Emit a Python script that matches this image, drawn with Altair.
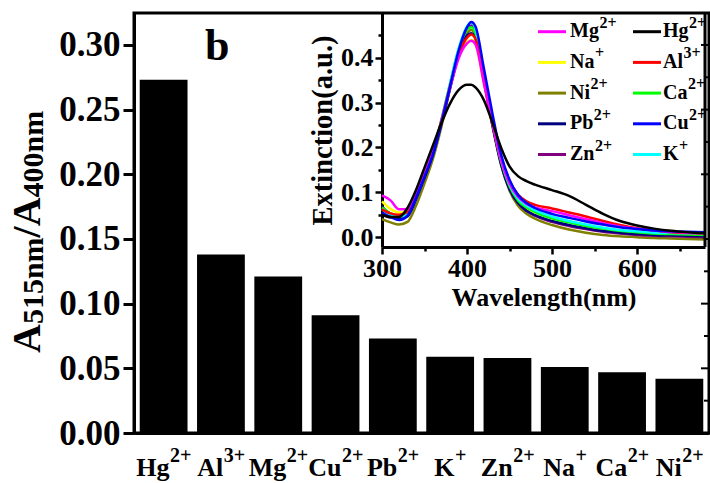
import altair as alt
import pandas as pd

# ---------------- data ----------------
ion_base = ["Hg", "Al", "Mg", "Cu", "Pb", "K", "Zn", "Na", "Ca", "Ni"]
ion_sup = ["2+", "3+", "2+", "2+", "2+", "+", "2+", "+", "2+", "2+"]
ratio = [0.273, 0.138, 0.121, 0.091, 0.073, 0.059, 0.058, 0.051, 0.047, 0.042]

wavelength = [300, 310, 320, 330, 340, 350, 360, 370, 380, 390, 400, 405, 410, 420, 430,
              440, 450, 460, 470, 480, 500, 520, 540, 560, 580, 600, 620, 640, 660, 680]
ext_Na = [.080, .063, .055, .058, .094, .140, .190, .258, .333, .400, .435, .440, .430, .340, .247,
          .166, .112, .081, .065, .056, .044, .035, .027, .020, .015, .011, .008, .006, .005, .004]
ext_Ni = [.040, .033, .028, .034, .070, .120, .175, .247, .330, .408, .455, .462, .450, .352, .250,
          .162, .104, .070, .052, .041, .027, .017, .010, .005, .002, .000, -.002, -.003, -.004, -.005]
ext_Zn = [.052, .044, .043, .050, .088, .136, .188, .259, .339, .416, .465, .472, .460, .360, .257,
          .169, .110, .077, .059, .048, .034, .025, .018, .012, .008, .005, .003, .002, .001, .000]
ext_Pb = [.068, .050, .040, .046, .084, .132, .184, .254, .332, .405, .450, .455, .443, .347, .248,
          .163, .107, .076, .059, .049, .036, .027, .020, .014, .010, .007, .005, .004, .003, .002]
ext_Ca = [.066, .053, .048, .054, .092, .140, .192, .263, .342, .417, .462, .468, .455, .357, .256,
          .170, .114, .082, .066, .056, .042, .033, .025, .019, .014, .011, .008, .007, .006, .005]
ext_K = [.062, .050, .045, .052, .090, .138, .190, .262, .342, .420, .470, .478, .465, .365, .262,
         .175, .118, .086, .070, .060, .046, .036, .028, .021, .016, .013, .010, .009, .008, .007]
ext_Al = [.062, .053, .050, .056, .093, .140, .192, .261, .337, .405, .445, .452, .442, .350, .258,
          .178, .125, .095, .080, .072, .064, .055, .046, .036, .027, .020, .015, .011, .009, .008]
ext_Mg = [.093, .082, .062, .063, .097, .142, .192, .259, .332, .398, .432, .438, .430, .342, .252,
          .173, .120, .090, .074, .066, .058, .049, .040, .031, .024, .019, .015, .012, .010, .009]
ext_Cu = [.055, .045, .038, .048, .088, .135, .185, .255, .335, .415, .468, .480, .470, .375, .275,
          .185, .128, .094, .076, .065, .052, .043, .035, .028, .022, .018, .015, .013, .012, .011]
ext_Hg = [.050, .045, .045, .065, .105, .155, .205, .255, .298, .328, .340, .340, .334, .305, .255,
          .200, .158, .136, .125, .117, .105, .092, .072, .052, .036, .026, .019, .014, .011, .009]

spectra = {"Na": ext_Na, "Ni": ext_Ni, "Zn": ext_Zn, "Pb": ext_Pb, "Ca": ext_Ca,
           "K": ext_K, "Al": ext_Al, "Mg": ext_Mg, "Cu": ext_Cu, "Hg": ext_Hg}
colors = {"Mg": "#ff00ff", "Na": "#ffff00", "Ni": "#808000", "Pb": "#000080", "Zn": "#800080",
          "Hg": "#000000", "Al": "#ff0000", "Ca": "#00ff00", "Cu": "#0000ff", "K": "#00ffff"}
legend_col1 = ["Mg", "Na", "Ni", "Pb", "Zn"]
legend_col2 = ["Hg", "Al", "Ca", "Cu", "K"]
y_tick_values = [round(i * 0.025, 3) for i in range(13)]

# ---------------- layout helpers ----------------
FONT = "Liberation Serif"
W, H = 575, 420
OX, OY = 134, 13

TB = {'A': .722, 'C': .722, 'E': .667, 'H': .778, 'K': .778, 'M': .944, 'N': .722, 'P': .611,
      'W': 1.0, 'Z': .667, 'a': .5, 'b': .556, 'c': .444, 'e': .444, 'g': .5, 'h': .556, 'i': .278,
      'l': .278, 'm': .833, 'n': .556, 'o': .5, 't': .333, 'u': .556, 'v': .5, 'x': .5, '+': .57,
      '/': .278, '(': .333, ')': .333, '.': .25}


def tw(s, size):
    return sum(TB.get(c, 0.5) for c in s) * size


def label(s, x, y, size, angle=0, align="left"):
    return alt.Chart(pd.DataFrame({"t": [s]})).mark_text(
        text=s, font=FONT, fontWeight="bold", fontSize=size, angle=angle,
        align=align, baseline="alphabetic", color="black"
    ).encode(x=alt.value(x), y=alt.value(y))


keys = [b + s for b, s in zip(ion_base, ion_sup)]
bar_df = pd.DataFrame({"ion": keys, "ratio": ratio})
xscale = alt.Scale(domain=keys, paddingInner=0.166, paddingOuter=0.1)
yscale = alt.Scale(domain=[0, 0.3247], nice=False)

major_y = "round(datum.value*1000) % 50 == 0"
bars = alt.Chart(bar_df).mark_bar(color="black").encode(
    x=alt.X("ion:N", sort=keys, scale=xscale,
            axis=alt.Axis(labels=False, ticks=False, title=None, domainWidth=3, domainColor="black")),
    y=alt.Y("ratio:Q", scale=yscale,
            axis=alt.Axis(values=y_tick_values,
                          labelExpr=f"{major_y} ? format(datum.value, '.2f') : ''",
                          tickSize={"condition": {"test": major_y, "value": 11}, "value": 6},
                          tickWidth=3, tickColor="black", domainWidth=3, domainColor="black",
                          labelFont=FONT, labelFontWeight="bold", labelFontSize=35,
                          labelColor="black", labelPadding=3, title=None, grid=False,
                          labelFlush=False, labelOverlap=False))
)

# mirrored ticks on the right frame, pointing inwards
rt_df = pd.DataFrame({"v": y_tick_values[1:],
                      "major": [round(v * 1000) % 50 == 0 for v in y_tick_values[1:]]})
right_major = alt.Chart(rt_df).transform_filter("datum.major").mark_rule(
    strokeWidth=2, color="black").encode(y=alt.Y("v:Q", scale=yscale), x=alt.value(W - 8), x2=alt.value(W))
right_minor = alt.Chart(rt_df).transform_filter("!datum.major").mark_rule(
    strokeWidth=2, color="black").encode(y=alt.Y("v:Q", scale=yscale), x=alt.value(W - 5), x2=alt.value(W))

main_layers = [bars, right_major, right_minor]
BS, SS = 26, 20
for k, b, s in zip(keys, ion_base, ion_sup):
    wb, ws = tw(b, BS), tw(s, SS)
    start = -(wb + ws) / 2
    sub = alt.Chart(bar_df).transform_filter(alt.datum.ion == k)
    main_layers.append(sub.mark_text(text=b, font=FONT, fontWeight="bold", fontSize=BS, align="left",
                                     baseline="alphabetic", dx=start, color="black").encode(
        x=alt.X("ion:N", sort=keys, scale=xscale), y=alt.value(463)))
    main_layers.append(sub.mark_text(text=s, font=FONT, fontWeight="bold", fontSize=SS, align="left",
                                     baseline="alphabetic", dx=start + wb + 0.5, color="black").encode(
        x=alt.X("ion:N", sort=keys, scale=xscale), y=alt.value(449)))

# y title  A515nm/A400nm (rotated, with subscripts)
ycur = 353 - OY
for seg, size, xb in [("A", 40, 40), ("515nm", 30, 43), ("/A", 40, 40), ("400nm", 30, 43)]:
    main_layers.append(label(seg, xb - OX, ycur, size, angle=270))
    ycur -= tw(seg, size)

main_layers.append(label("b", 205 - OX, 60 - OY, 44))
main = alt.layer(*main_layers)

# ---------------- inset ----------------
rows = []
for ion in spectra:
    for wl, v in zip(wavelength, spectra[ion]):
        rows.append({"ion": ion, "wl": wl, "ext": v})
spec_df = pd.DataFrame(rows)

ix = alt.Scale(domain=[300, 680], range=[382 - OX, 705 - OX], nice=False, zero=False)
iy = alt.Scale(domain=[-0.022, 0.5], range=[247 - OY, 13 - OY], nice=False, zero=False)
major_x = "datum.value % 100 == 0"
major_iy = "round(datum.value*100) % 10 == 0"

lines = alt.Chart(spec_df).mark_line(strokeWidth=2.5, interpolate="monotone").encode(
    x=alt.X("wl:Q", scale=ix,
            axis=alt.Axis(orient="bottom", offset=-(433 - 247), values=list(range(300, 700, 50)),
                          labelExpr=f"{major_x} ? datum.label : ''",
                          tickSize={"condition": {"test": major_x, "value": 7}, "value": 4},
                          tickWidth=2.5, tickColor="black", domainWidth=3, domainColor="black",
                          labelFont=FONT, labelFontWeight="bold", labelFontSize=26, labelColor="black",
                          labelPadding=1, grid=False, labelFlush=False, labelOverlap=False,
                          title="Wavelength(nm)", titleFont=FONT,
                          titleFontWeight="bold", titleFontSize=26, titleColor="black", titlePadding=3)),
    y=alt.Y("ext:Q", scale=iy,
            axis=alt.Axis(orient="left", offset=-(382 - OX), values=[round(i * 0.05, 2) for i in range(10)],
                          labelExpr=f"{major_iy} ? format(datum.value, '.1f') : ''",
                          tickSize={"condition": {"test": major_iy, "value": 7}, "value": 4},
                          tickWidth=2.5, tickColor="black", domainWidth=3, domainColor="black",
                          labelFont=FONT, labelFontWeight="bold", labelFontSize=26, labelColor="black",
                          labelPadding=2, grid=False, labelFlush=False, labelOverlap=False,
                          title="Extinction(a.u.)", titleFont=FONT,
                          titleFontWeight="bold", titleFontSize=28.5, titleColor="black", titlePadding=3)),
    color=alt.Color("ion:N", scale=alt.Scale(domain=list(colors.keys()), range=list(colors.values())),
                    legend=None),
    detail="ion:N",
)

border = alt.Chart(pd.DataFrame({"wl": [680], "lo": [-0.022], "hi": [0.5]})).mark_rule(
    strokeWidth=3, color="black").encode(x=alt.X("wl:Q", scale=ix), y=alt.Y("lo:Q", scale=iy), y2="hi:Q")

inset = alt.layer(lines, border)

# legend (manual, two columns)
leg = []
for c, names in enumerate([legend_col1, legend_col2]):
    for r, nm in enumerate(names):
        ly = 31.7 + 30.7 * r - OY
        x1 = (538 if c == 0 else 633) - OX
        tx = (570 if c == 0 else 663) - OX
        sup = ion_sup[ion_base.index(nm)]
        leg.append(dict(base=nm, sup=sup, color=colors[nm], x1=x1, x2=x1 + 28, y=ly,
                        tx=tx, ty=ly + 5.5, sx=tx + tw(nm, 20) + 0.5, sy=ly - 4))
leg_df = pd.DataFrame(leg)
leg_base = alt.Chart(leg_df)
legend = alt.layer(
    leg_base.mark_rule(strokeWidth=3).encode(
        x=alt.X("x1:Q", scale=None), x2="x2:Q", y=alt.Y("y:Q", scale=None),
        color=alt.Color("color:N", scale=None)),
    leg_base.mark_text(font=FONT, fontWeight="bold", fontSize=20, align="left", baseline="alphabetic",
                       color="black").encode(
        x=alt.X("tx:Q", scale=None), y=alt.Y("ty:Q", scale=None), text="base:N"),
    leg_base.mark_text(font=FONT, fontWeight="bold", fontSize=16, align="left", baseline="alphabetic",
                       color="black").encode(
        x=alt.X("sx:Q", scale=None), y=alt.Y("sy:Q", scale=None), text="sup:N"),
)

chart = alt.layer(main, inset, legend).resolve_scale(
    x="independent", y="independent", color="independent"
).resolve_axis(x="independent", y="independent").properties(
    width=W, height=H,
    autosize=alt.AutoSizeParams(type="none"),
    padding={"left": OX, "top": OY, "right": 710 - OX - W, "bottom": 483 - OY - H},
    background="white",
).configure_view(stroke="black", strokeWidth=3)

chart.save("out.html", embed_options={"renderer": "svg", "actions": False})
